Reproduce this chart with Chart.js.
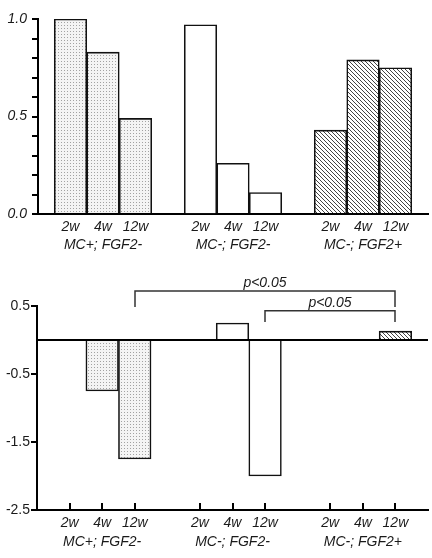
<!DOCTYPE html>
<html>
<head>
<meta charset="utf-8">
<script src="https://cdn.jsdelivr.net/npm/chart.js@4/dist/chart.umd.min.js"></script>
<style>
  html, body { margin: 0; padding: 0; background: #fff; }
  #top { position: absolute; left: 0; top: 0; width: 432px; height: 270px; }
  #bottom { position: absolute; left: 0; top: 270px; width: 432px; height: 288px; }
</style>
</head>
<body>
<div id="top"><canvas id="chartTop"></canvas></div>
<div id="bottom"><canvas id="chartBottom"></canvas></div>
<script>
// categories
var weeks = ['2w', '4w', '12w'];
var groups = ['MC+; FGF2-', 'MC-; FGF2-', 'MC-; FGF2+'];

// upper panel, one array per group (2w, 4w, 12w)
var topMCposFGFneg = [1.0, 0.83, 0.49];
var topMCnegFGFneg = [0.97, 0.26, 0.11];
var topMCnegFGFpos = [0.43, 0.79, 0.75];

// lower panel (null = no bar)
var lowMCposFGFneg = [null, -0.75, -1.75];
var lowMCnegFGFneg = [null, 0.25, -2.0];
var lowMCnegFGFpos = [null, null, 0.13];

// significance brackets: [group, week] pairs
var comparisons = [
  { from: [0, 2], to: [2, 2], label: 'p<0.05' },
  { from: [1, 2], to: [2, 2], label: 'p<0.05' }
];

var FONT = 'Liberation Sans, Arial, sans-serif';
var INK = '#1a1a1a';

// empty slot at both ends and between groups
function idx(g, w) { return 1 + g * 4 + w; }

function buildLabels() {
  var out = [''];
  groups.forEach(function(g) {
    weeks.forEach(function(w, wi) { out.push(wi === 1 ? [w, g] : w); });
    out.push('');
  });
  return out;
}

function flatten(series) {
  var out = [null];
  series.forEach(function(s) {
    s.forEach(function(v) { out.push(v); });
    out.push(null);
  });
  return out;
}

function perBar(fills) {
  var out = ['rgba(0,0,0,0)'];
  fills.forEach(function(f) {
    weeks.forEach(function() { out.push(f); });
    out.push('rgba(0,0,0,0)');
  });
  return out;
}

function dotPattern() {
  var c = document.createElement('canvas');
  c.width = 3; c.height = 3;
  var g = c.getContext('2d');
  g.fillStyle = '#f4f4f4'; g.fillRect(0, 0, 3, 3);
  g.fillStyle = '#a2a2a2'; g.fillRect(1, 1, 1, 1);
  return g.createPattern(c, 'repeat');
}

function hatchPattern() {
  var c = document.createElement('canvas');
  c.width = 4; c.height = 4;
  var g = c.getContext('2d');
  g.fillStyle = '#ffffff'; g.fillRect(0, 0, 4, 4);
  g.strokeStyle = '#444'; g.lineWidth = 1;
  g.beginPath();
  for (var k = -1; k <= 1; k++) { g.moveTo(k * 4, 0); g.lineTo(k * 4 + 4, 4); }
  g.stroke();
  return g.createPattern(c, 'repeat');
}

var fills = [dotPattern(), '#ffffff', hatchPattern()];
var labels = buildLabels();

function xScale(height, lineHeight) {
  return {
    offset: false,
    grid: { display: false, drawTicks: false },
    border: { display: true, width: 2, color: '#000' },
    ticks: {
      padding: 4, autoSkip: false, maxRotation: 0, color: INK,
      font: { family: FONT, size: 14, style: 'italic', lineHeight: lineHeight }
    },
    afterFit: function(s) { s.height = height; }
  };
}

function dataset(values) {
  return {
    data: values,
    backgroundColor: perBar(fills),
    borderColor: '#111',
    borderWidth: 1.6,
    barPercentage: 1,
    categoryPercentage: 1
  };
}

// upper chart
new Chart(document.getElementById('chartTop'), {
  type: 'bar',
  data: {
    labels: labels,
    datasets: [dataset(flatten([topMCposFGFneg, topMCnegFGFneg, topMCnegFGFpos]))]
  },
  options: {
    responsive: true, maintainAspectRatio: false, animation: false,
    layout: { padding: { top: 19, right: 0, left: 0, bottom: 0 } },
    plugins: { legend: { display: false }, tooltip: { enabled: false } },
    scales: {
      x: xScale(56, 1.3),
      y: {
        min: 0, max: 1,
        grid: { drawOnChartArea: false, tickLength: 6, lineWidth: 2, color: '#000' },
        border: { width: 2, color: '#000' },
        ticks: {
          stepSize: 0.1, autoSkip: false, padding: 5, color: INK,
          font: { family: FONT, size: 14, style: 'italic' },
          callback: function(v) {
            return Math.abs(v * 2 - Math.round(v * 2)) < 1e-6 ? v.toFixed(1) : '';
          }
        },
        afterFit: function(s) { s.width = 38; }
      }
    }
  }
});

// lower chart extras: zero line, inward x ticks, brackets
var lowerDecor = {
  id: 'lowerDecor',
  afterDatasetsDraw: function(chart) {
    var ctx = chart.ctx, area = chart.chartArea, y = chart.scales.y;
    var y0 = y.getPixelForValue(0);
    ctx.save();
    ctx.strokeStyle = '#000'; ctx.lineWidth = 2;
    ctx.beginPath(); ctx.moveTo(area.left, y0); ctx.lineTo(area.right, y0); ctx.stroke();
    ctx.restore();
  },
  afterDraw: function(chart) {
    var ctx = chart.ctx, area = chart.chartArea, x = chart.scales.x, y = chart.scales.y;
    ctx.save();
    ctx.strokeStyle = '#000'; ctx.lineWidth = 2;
    groups.forEach(function(g, gi) {
      weeks.forEach(function(w, wi) {
        var px = Math.round(x.getPixelForValue(idx(gi, wi)));
        ctx.beginPath(); ctx.moveTo(px, area.bottom); ctx.lineTo(px, area.bottom - 7); ctx.stroke();
      });
    });
    var levels = [[0.72, 0.485], [0.43, 0.265]];
    ctx.strokeStyle = '#333'; ctx.lineWidth = 1.5;
    ctx.fillStyle = INK;
    ctx.font = 'italic 14px ' + FONT;
    ctx.textAlign = 'center'; ctx.textBaseline = 'alphabetic';
    comparisons.forEach(function(c, i) {
      var x1 = Math.round(x.getPixelForValue(idx(c.from[0], c.from[1])));
      var x2 = Math.round(x.getPixelForValue(idx(c.to[0], c.to[1])));
      var yt = y.getPixelForValue(levels[i][0]);
      var yb = y.getPixelForValue(levels[i][1]);
      ctx.beginPath();
      ctx.moveTo(x1, yb); ctx.lineTo(x1, yt); ctx.lineTo(x2, yt); ctx.lineTo(x2, yb);
      ctx.stroke();
      ctx.fillText(c.label, (x1 + x2) / 2, yt - 4);
    });
    ctx.restore();
  }
};

new Chart(document.getElementById('chartBottom'), {
  type: 'bar',
  data: {
    labels: labels,
    datasets: [dataset(flatten([lowMCposFGFneg, lowMCnegFGFneg, lowMCnegFGFpos]))]
  },
  options: {
    responsive: true, maintainAspectRatio: false, animation: false,
    layout: { padding: { top: 36, right: 0, left: 0, bottom: 0 } },
    plugins: { legend: { display: false }, tooltip: { enabled: false } },
    scales: {
      x: xScale(48, 1.36),
      y: {
        min: -2.5, max: 0.5,
        grid: { drawOnChartArea: false, tickLength: 6, lineWidth: 2, color: '#000' },
        border: { width: 2, color: '#000' },
        ticks: {
          stepSize: 1, autoSkip: false, padding: 1, color: INK,
          font: { family: FONT, size: 14 },
          callback: function(v) { return v.toFixed(1); }
        },
        afterFit: function(s) { s.width = 37; }
      }
    }
  },
  plugins: [lowerDecor]
});
</script>
</body>
</html>
